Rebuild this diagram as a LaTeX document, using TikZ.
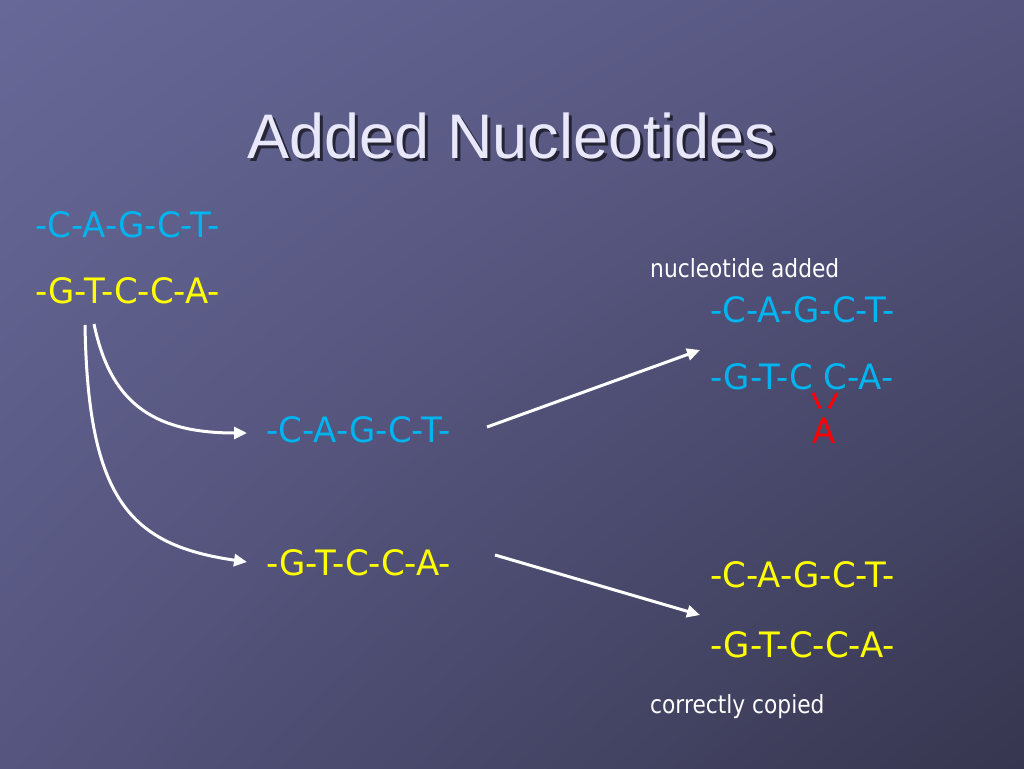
\documentclass[tikz,border=0pt]{standalone}
\usepackage{fontspec}
\setmainfont{Liberation Sans}
\newfontfamily\seqfont[FakeStretch=0.97]{DejaVu Sans}
\newfontfamily\remarkfont[FakeStretch=0.87]{DejaVu Sans}
\usetikzlibrary{arrows.meta,shadings}
\usetikzlibrary{calc,positioning}
\definecolor{bgA}{HTML}{686898}
\definecolor{bgB}{HTML}{55557F}
\definecolor{bgC}{HTML}{36364F}
\definecolor{strandC}{HTML}{00B4F0}
\definecolor{strandY}{HTML}{FFFF00}
\definecolor{titlecol}{HTML}{E8E8FA}

\begin{document}
\begin{tikzpicture}[x=1pt,y=-1pt]
	\tikzstyle{strand}=[inner sep=0, anchor=base west, font=\seqfont\fontsize{35}{40}\selectfont]
	\tikzstyle{remark}=[inner sep=0, anchor=base west, text=white, font=\remarkfont\fontsize{25}{30}\selectfont]
	\tikzstyle{copyarrow}=[white, line width=3pt, -{Triangle[length=13pt,width=12pt]}]
	\useasboundingbox (0,0) rectangle (1024,768);
	\shade[upper left=bgA, upper right=bgB, lower left=bgB, lower right=bgC] (0,0) rectangle (1024,768);
	% title
	\node[anchor=base, text=black, opacity=.6, font=\fontsize{63}{70}\selectfont] at (515,161) {Added Nucleotides};
	\node[anchor=base, text=titlecol, font=\fontsize{63}{70}\selectfont] (title) at (512,158) {Added Nucleotides};
	% original double strand
	\node[strand, text=strandC] (origC) at (35,237) {-C-A-G-C-T-};
	\node[strand, text=strandY] (origY) at (35,303) {-G-T-C-C-A-};
	% separated strands
	\node[strand, text=strandC] (sepC) at (266,442) {-C-A-G-C-T-};
	\node[strand, text=strandY] (sepY) at (266,575) {-G-T-C-C-A-};
	% copy with extra base
	\node[remark] (added) at (650,277) {nucleotide added};
	\node[strand, text=strandC] (badC) at (710,322) {-C-A-G-C-T-};
	\node[strand, text=strandC] (badY) at (710,389) {-G-T-C C-A-};
	\node[strand, text=red, anchor=base] (extra) at (824,443) {A};
	% correct copy
	\node[strand, text=strandY] (okC) at (710,587) {-C-A-G-C-T-};
	\node[strand, text=strandY] (okY) at (710,657) {-G-T-C-C-A-};
	\node[remark] (copied) at (650,713) {correctly copied};

	\draw[copyarrow] ($(origY.base west)+(59,21)$) .. controls +(16,76) and +(-97,0) .. ($(sepC.base west)+(-19,-9)$);
	\draw[copyarrow] ($(origY.base west)+(50,22)$) .. controls +(3,175) and +(-117,-17) .. ($(sepY.base west)+(-19,-13)$);
	\draw[copyarrow] ($(sepC.base west)+(221,-15)$) -- ($(badC.base west)+(-10,28)$);
	\draw[copyarrow] ($(sepY.base west)+(229,-20)$) -- ($(okC.base west)+(-10,28)$);

	\coordinate (gapL) at ($(badY.base west)+(103,4)$);
	\coordinate (gapR) at ($(badY.base west)+(127,4)$);
	\draw[red, line width=3pt] (gapL) -- ($(extra.north)+(-4,-9)$);
	\draw[red, line width=3pt] (gapR) -- ($(extra.north)+(5,-9)$);
\end{tikzpicture}
\end{document}
